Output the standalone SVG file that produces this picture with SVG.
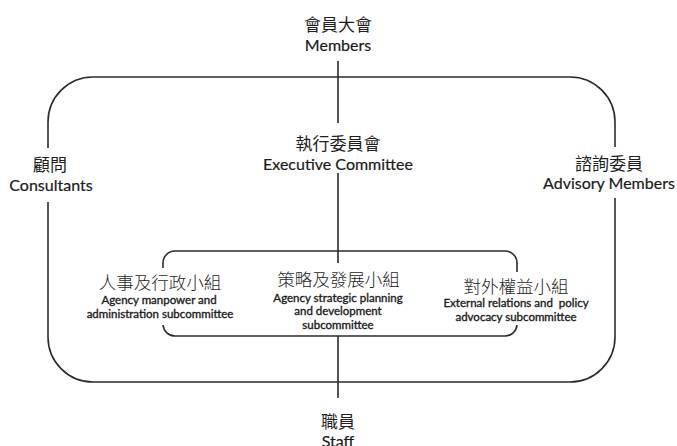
<svg xmlns="http://www.w3.org/2000/svg" width="677" height="446" viewBox="0 0 677 446">
<style>
.ln{fill:none;stroke:#2b2b2b;stroke-width:1.6;stroke-linecap:butt}
.zh{font-family:"Noto Sans CJK TC","Noto Sans CJK SC",sans-serif;font-size:17px;fill:#1e1e1e;text-anchor:middle}
.zh2{font-family:"Noto Sans CJK TC","Noto Sans CJK SC",sans-serif;font-size:17.5px;font-weight:300;fill:#1e1e1e;text-anchor:middle}
.en{font-family:Lato,"Liberation Sans",sans-serif;font-size:16px;fill:#1a1a1a;stroke:#1a1a1a;stroke-width:0.2;text-anchor:middle}
.sm{font-family:Lato,"Liberation Sans",sans-serif;font-size:11.5px;fill:#1a1a1a;stroke:#1a1a1a;stroke-width:0.35;text-anchor:middle;white-space:pre}
</style>
<rect width="677" height="446" fill="#fff"/>
<g id="outer-frame">
<path class="ln" d="M48 148V122A45 45 0 0 1 93 77H570A45 45 0 0 1 615 122V147"/>
<path class="ln" d="M615 198V337A45 45 0 0 1 570 382H93A45 45 0 0 1 48 337V202"/>
</g>
<g id="subcommittee-frame">
<path class="ln" d="M163 268V263A12 12 0 0 1 175 251H505A12 12 0 0 1 517 263V272"/>
<path class="ln" d="M517 325A12 12 0 0 1 505 336H175A12 12 0 0 1 163 325"/>
</g>
<g id="connectors">
<path class="ln" d="M338 61V123"/>
<path class="ln" d="M338 173V263"/>
<path class="ln" d="M338 336V398"/>
</g>
<g id="members">
<text class="zh" x="338" y="31">會員大會</text>
<text class="en" x="338" y="51">Members</text>
</g>
<g id="executive">
<text class="zh" x="338" y="149.5">執行委員會</text>
<text class="en" x="338" y="169.5">Executive Committee</text>
</g>
<g id="consultants">
<text class="zh" x="50" y="170.5">顧問</text>
<text class="en" x="51" y="190.5">Consultants</text>
</g>
<g id="advisory">
<text class="zh" x="609" y="169.5">諮詢委員</text>
<text class="en" x="609" y="188.5">Advisory Members</text>
</g>
<g id="manpower">
<text class="zh2" x="160" y="288.5">人事及行政小組</text>
<text class="sm" x="159" y="303.5">Agency manpower and</text>
<text class="sm" x="160" y="317.5">administration subcommittee</text>
</g>
<g id="strategic">
<text class="zh2" x="338.5" y="286">策略及發展小組</text>
<text class="sm" x="338" y="301.5">Agency strategic planning</text>
<text class="sm" x="338" y="315">and development</text>
<text class="sm" x="338" y="328.5">subcommittee</text>
</g>
<g id="external">
<text class="zh2" x="516" y="292.5">對外權益小組</text>
<text class="sm" x="516" y="306.5">External relations and  policy</text>
<text class="sm" x="516" y="320.5">advocacy subcommittee</text>
</g>
<g id="staff">
<text class="zh" x="338" y="428">職員</text>
<text class="en" x="338" y="447">Staff</text>
</g>
</svg>
